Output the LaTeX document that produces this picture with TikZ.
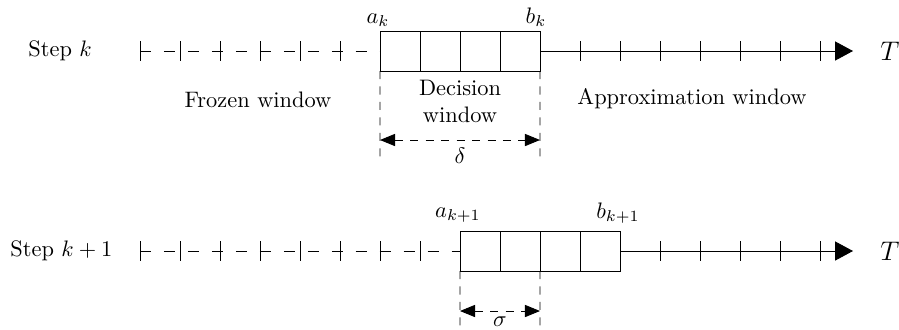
\documentclass[tikz,border=0pt]{standalone}
\usetikzlibrary{arrows.meta}
\begin{document}
\begin{tikzpicture}[x=0.4464pt,y=-0.4464pt,
  cell/.style={draw, minimum width=17.86pt, minimum height=17.86pt, inner sep=0pt, outer sep=0pt},
  frozen/.style={dash pattern=on 5pt off 5.7pt},
  guide/.style={dash pattern=on 3.6pt off 3.3pt},
  dim/.style={dash pattern=on 3.6pt off 3.3pt, {Triangle[length=6.7pt,width=5.4pt]}-{Triangle[length=6.7pt,width=5.4pt]}},
  axis/.style={-{Triangle[length=8pt,width=8.5pt]}},
  lbl/.style={anchor=base, inner sep=0pt},
  lblw/.style={anchor=base west, inner sep=0pt},
]
\useasboundingbox (0,0) rectangle (899,329);

% ---------- Step k ----------
\node[lblw] (stepk) at (28,56.5) {Step $k$};
\coordinate (f0) at (140,51);
\node[cell] (c1) at (400,51) {};
\node[cell] (c2) at (440,51) {};
\node[cell] (c3) at (480,51) {};
\node[cell] (c4) at (520,51) {};
\coordinate (tipA) at (853,51);
\draw[frozen] (f0) -- (c1.west);
\foreach \x in {140,180,...,340} \draw (\x,41) -- (\x,61);
\draw[axis] (c4.east) -- (tipA);
\foreach \x in {580,620,...,820} \draw (\x,41) -- (\x,61);
\node[lblw] (Ta) at (880,60) {\large $T$};
\node[lbl] (ak) at (378,23) {$a_k$};
\node[lbl] (bk) at (536,23) {$b_k$};
\node[lbl] (frz) at (258,107) {Frozen window};
\node[align=center, inner sep=0pt] (dec) at (460,101.4) {Decision\\window};
\node[lbl] (apx) at (692,104) {Approximation window};
\coordinate (v1) at (380,162);
\coordinate (v2) at (540,162);
\draw[guide] (c1.south west) -- (v1);
\draw[guide] (c4.south east) -- (v2);
\coordinate (d1) at (380,140);
\coordinate (d2) at (540,140);
\draw[dim] (d1) -- node[below] (delta) {$\delta$} (d2);

% ---------- Step k+1 ----------
\node[lblw] (stepk1) at (10,256) {Step $k+1$};
\coordinate (g0) at (140,251);
\node[cell] (e1) at (480,251) {};
\node[cell] (e2) at (520,251) {};
\node[cell] (e3) at (560,251) {};
\node[cell] (e4) at (600,251) {};
\coordinate (tipB) at (853,251);
\draw[frozen] (g0) -- (e1.west);
\foreach \x in {140,180,...,420} \draw (\x,241) -- (\x,261);
\draw[axis] (e4.east) -- (tipB);
\foreach \x in {660,700,...,820} \draw (\x,241) -- (\x,261);
\node[lblw] (Tb) at (880,260) {\large $T$};
\node[lbl] (ak1) at (458,217) {$a_{k+1}$};
\node[lbl] (bk1) at (618,218) {$b_{k+1}$};
\coordinate (v3) at (460,329);
\coordinate (v4) at (540,329);
\draw[guide] (e1.south west) -- (v3);
\draw[guide] (e2.south east) -- (v4);
\coordinate (s1) at (460,311);
\coordinate (s2) at (540,311);
\draw[dim] (s1) -- node[below, inner sep=2.4pt] (sigma) {$\sigma$} (s2);
\end{tikzpicture}
\end{document}
